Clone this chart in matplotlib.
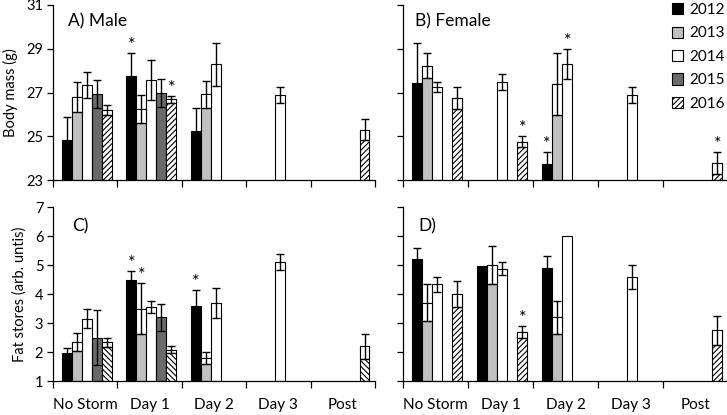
import numpy as np
import matplotlib
matplotlib.use("Agg")
import matplotlib.pyplot as plt
from matplotlib.patches import Patch, Rectangle

plt.rcParams['font.family'] = ['Lato', 'DejaVu Sans']
plt.rcParams['hatch.linewidth'] = 0.8

nan = np.nan
categories = ['No Storm', 'Day 1', 'Day 2', 'Day 3', 'Post']
years = ['2012', '2013', '2014', '2015', '2016']

# rows = years (2012..2016), columns = categories
mass_male = [[24.85, 27.75, 25.25, nan, nan],
             [26.80, 26.25, 26.92, nan, nan],
             [27.34, 27.57, 28.30, 26.89, nan],
             [26.92, 26.99, nan, nan, nan],
             [26.20, 26.69, nan, nan, 25.29]]
mass_male_err = [[1.04, 1.04, 1.04, nan, nan],
                 [0.67, 0.64, 0.61, nan, nan],
                 [0.58, 0.92, 0.98, 0.38, nan],
                 [0.65, 0.63, nan, nan, nan],
                 [0.23, 0.15, nan, nan, 0.48]]
mass_female = [[27.45, nan, 23.73, nan, nan],
               [28.23, nan, 27.39, nan, nan],
               [27.27, 27.49, 28.30, 26.89, nan],
               [nan, nan, nan, nan, nan],
               [26.76, 24.75, nan, nan, 23.76]]
mass_female_err = [[1.80, nan, 0.56, nan, nan],
                   [0.58, nan, 1.43, nan, nan],
                   [0.23, 0.36, 0.70, 0.38, nan],
                   [nan, nan, nan, nan, nan],
                   [0.50, 0.26, nan, nan, 0.50]]
fat_male = [[1.95, 4.50, 3.60, nan, nan],
            [2.35, 3.50, 1.80, nan, nan],
            [3.15, 3.55, 3.70, 5.10, nan],
            [2.50, 3.20, nan, nan, nan],
            [2.33, 2.08, nan, nan, 2.20]]
fat_male_err = [[0.18, 0.28, 0.55, nan, nan],
                [0.32, 0.87, 0.20, nan, nan],
                [0.32, 0.20, 0.52, 0.28, nan],
                [0.95, 0.47, nan, nan, nan],
                [0.17, 0.12, nan, nan, 0.43]]
fat_female = [[5.22, 4.97, 4.88, nan, nan],
              [3.70, 5.00, 3.20, nan, nan],
              [4.33, 4.87, 6.00, 4.58, nan],
              [nan, nan, nan, nan, nan],
              [4.00, 2.70, nan, nan, 2.75]]
fat_female_err = [[0.38, 0.00, 0.42, nan, nan],
                  [0.63, 0.65, 0.57, nan, nan],
                  [0.27, 0.22, 0.00, 0.42, nan],
                  [nan, nan, nan, nan, nan],
                  [0.45, 0.20, nan, nan, 0.50]]
# significance stars: (category index, year index)
stars_mass_male = [(1, 0), (1, 4)]
stars_mass_female = [(1, 4), (2, 0), (2, 2), (4, 4)]
stars_fat_male = [(1, 0), (1, 1), (2, 0)]
stars_fat_female = [(1, 4)]

colors = ['#000000', '#c0c0c0', '#ffffff', '#6a6a6a', '#ffffff']
W, H = 727, 415
fig = plt.figure(figsize=(W / 100, H / 100), dpi=100)


def make_ax(x0, x1, y0, y1):
    return fig.add_axes([x0 / W, 1 - y1 / H, (x1 - x0) / W, (y1 - y0) / H])


bw = 0.155
offsets = [0.5 + (i - 2) * bw + 0.027 for i in range(5)]


def panel(ax, vals, errs, stars, ylim, yticks, ylab_show, xlab_show, hatch):
    vals = np.array(vals, float)
    errs = np.array(errs, float)
    for i in range(5):
        for c in range(5):
            v, e = vals[i, c], errs[i, c]
            if np.isnan(v):
                continue
            x = c + offsets[i]
            ax.bar(x, v - ylim[0], bottom=ylim[0], width=bw, color=colors[i],
                   edgecolor='black', linewidth=0.8,
                   hatch=hatch if i == 4 else None, zorder=2)
            if e > 0:
                if i in (1, 4):
                    ax.add_patch(Rectangle((x - bw / 2, v - e), bw, e,
                                           facecolor='white', edgecolor='black',
                                           linewidth=0.8, zorder=3))
                ax.errorbar(x, v, yerr=e, fmt='none', ecolor='black',
                            elinewidth=1.0, capsize=3.2, capthick=1.0, zorder=4)
    for c, i in stars:
        v, e = vals[i, c], errs[i, c]
        x = c + offsets[i]
        ax.annotate('*', (x, v + e), xytext=(0, 0), textcoords='offset points',
                    ha='center', va='bottom', fontsize=13)
    ax.set_xlim(0, 5)
    ax.set_ylim(*ylim)
    ax.set_yticks(yticks)
    for s in ('top', 'right'):
        ax.spines[s].set_visible(False)
    ax.spines['left'].set_linewidth(0.9)
    ax.spines['bottom'].set_linewidth(0.9)
    ax.set_xticks(range(6))
    ax.set_xticklabels([])
    ax.tick_params(axis='x', which='major', direction='out', length=5, width=0.9)
    ax.tick_params(axis='y', direction='out', length=4, width=0.9, labelsize=10.5,
                   pad=3)
    if not ylab_show:
        ax.set_yticklabels([])
    if xlab_show:
        ax.set_xticks(np.arange(5) + 0.5, minor=True)
        ax.set_xticklabels(categories, minor=True, fontsize=11)
        ax.tick_params(axis='x', which='minor', length=0, pad=12)


axA = make_ax(53, 375, 5, 180)
axB = make_ax(403, 728, 5, 180)
axC = make_ax(53, 375, 207, 381)
axD = make_ax(403, 728, 207, 381)

panel(axA, mass_male, mass_male_err, stars_mass_male, (23, 31), [23, 25, 27, 29, 31], True, False, '//////')
panel(axB, mass_female, mass_female_err, stars_mass_female, (23, 31), [23, 25, 27, 29, 31], False, False, '//////')
panel(axC, fat_male, fat_male_err, stars_fat_male, (1, 7), range(1, 8), True, True, '\\\\\\\\\\\\')
panel(axD, fat_female, fat_female_err, stars_fat_female, (1, 7), range(1, 8), False, True, '//////')

axA.set_ylabel('Body mass (g)', fontsize=10.5, labelpad=6)
axC.set_ylabel('Fat stores (arb. untis)', fontsize=10.5, labelpad=6)

fig.text(68 / W, 1 - 21 / H, 'A) Male', fontsize=12.5, va='center')
fig.text(415 / W, 1 - 21 / H, 'B) Female', fontsize=12.5, va='center')
fig.text(72 / W, 1 - 226 / H, 'C)', fontsize=12.5, va='center')
fig.text(418 / W, 1 - 226 / H, 'D)', fontsize=12.5, va='center')

handles = [Patch(facecolor=colors[i], edgecolor='black', linewidth=0.8,
                 hatch='//////' if i == 4 else None) for i in range(5)]
fig.legend(handles, years, loc='upper left', bbox_to_anchor=(672 / W, 1 - 3 / H),
           frameon=False, fontsize=11, handlelength=0.75, handleheight=0.75,
           handletextpad=0.4, labelspacing=0.62, borderpad=0, borderaxespad=0)

fig.savefig('out.png', dpi=100)
